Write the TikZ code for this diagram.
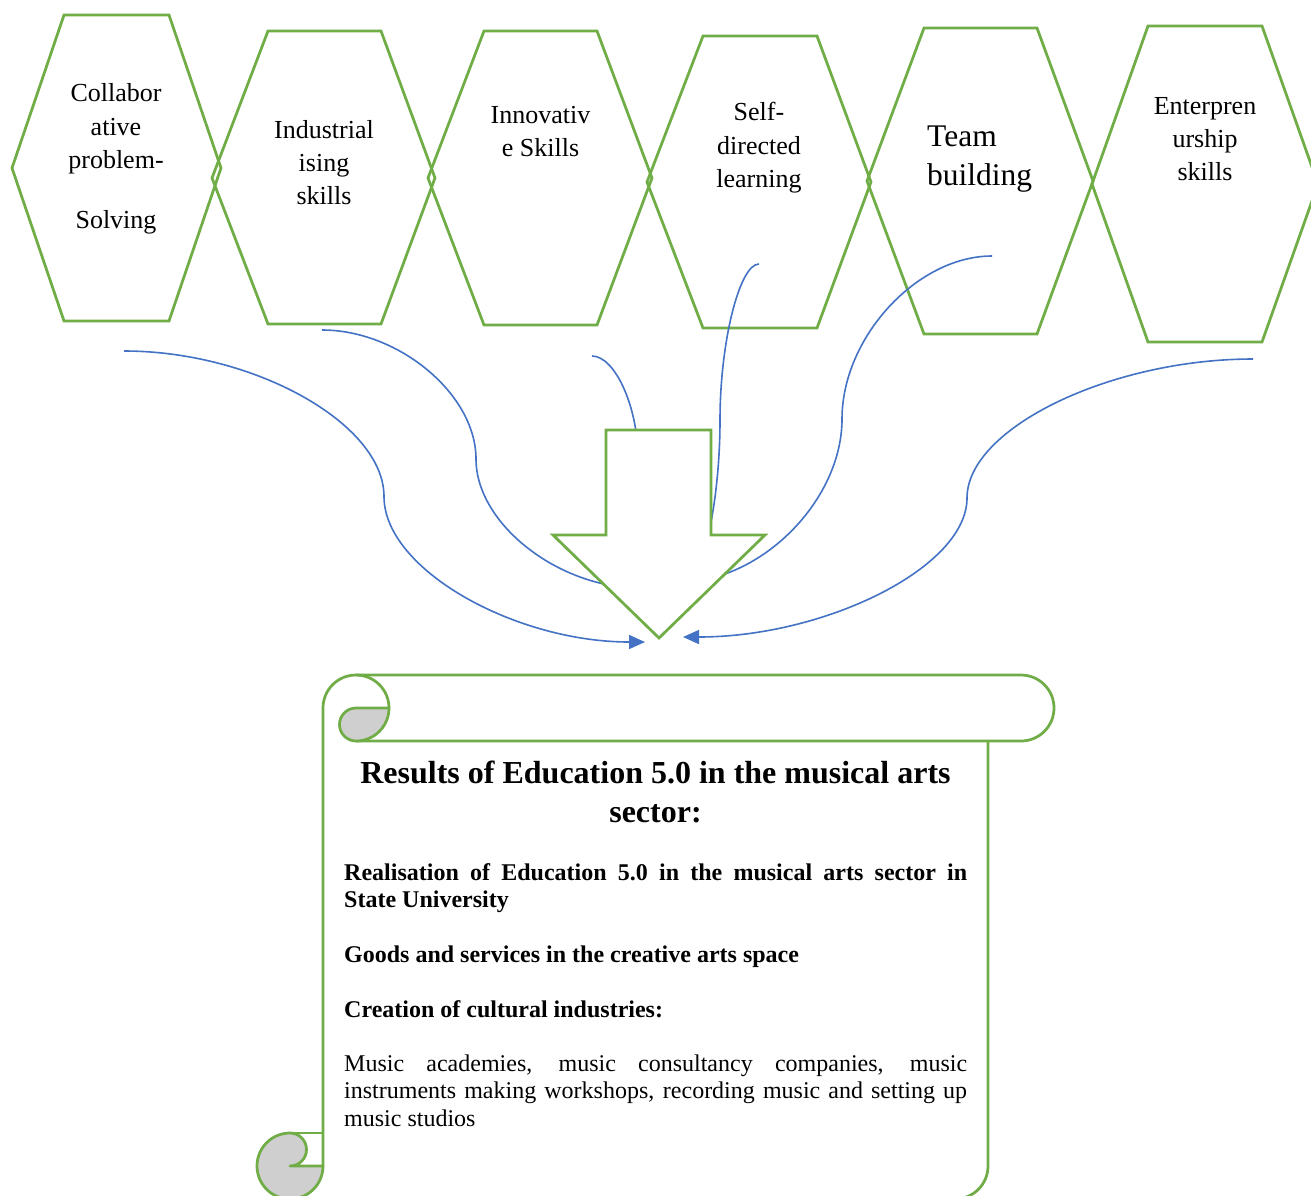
\documentclass[tikz,border=0pt]{standalone}
\usepackage{fontspec}
\setmainfont{Liberation Serif}
\usetikzlibrary{arrows.meta}
\definecolor{sgreen}{HTML}{70AD47}
\definecolor{sblue}{HTML}{4472C4}
\definecolor{sgray}{HTML}{CFCFCF}
\tikzset{
  hexshape/.style={draw=sgreen, line width=2.75pt, line join=miter},
  scrollline/.style={draw=sgreen, line width=2.75pt, line join=round},
  link/.style={draw=sblue, line width=1.6pt},
  linkarrow/.style={link, -{Triangle[length=16pt,width=14pt]}},
  hextext/.style={inner sep=0pt, anchor=base, font=\fontsize{26}{33.3}\selectfont},
}
\newcommand{\hexlines}[1]{\parbox[t]{220pt}{\centering #1}}
\begin{document}
\begin{tikzpicture}[x=1pt,y=-1pt]
\useasboundingbox (0,0) rectangle (1311,1195);
\clip (0,0) rectangle (1311,1195);
\fill[white] (0,0) rectangle (1311,1195);

% hexagons
\draw[hexshape] (12,168) -- (64,15) -- (169,15) -- (221,168) -- (169,321) -- (64,321) -- cycle;
\draw[hexshape] (212,178) -- (268,31) -- (381,31) -- (435,178) -- (381,324) -- (268,324) -- cycle;
\draw[hexshape] (428,178) -- (484,31) -- (597,31) -- (652,178) -- (597,325) -- (484,325) -- cycle;
\draw[hexshape] (647,182) -- (703,36) -- (817,36) -- (871,182) -- (817,328) -- (703,328) -- cycle;
\draw[hexshape] (867,181) -- (924,28) -- (1037,28) -- (1093,181) -- (1037,334) -- (924,334) -- cycle;
\draw[hexshape] (1092,184) -- (1148,26) -- (1262,26) -- (1318,184) -- (1262,342) -- (1148,342) -- cycle;

% hexagon texts
\node[hextext] (t1) at (116,101.7) {\hexlines{Collabor\\ative\\problem-\\[26.7pt]Solving}};
\node[hextext] (t2) at (324,138.3) {\hexlines{Industrial\\ising\\skills}};
\node[hextext] (t3) at (540.5,123.3) {\hexlines{Innovativ\\e Skills}};
\node[hextext] (t4) at (759,120.7) {\hexlines{Self-\\directed\\learning}};
\node[inner sep=0pt, anchor=base west, font=\fontsize{31.5}{38.3}\selectfont] (t5) at (927,146.7) {\parbox[t]{200pt}{\raggedright Team\\building}};
\node[hextext] (t6) at (1205,114) {\hexlines{Enterpren\\urship\\skills}};

% connector end points
\coordinate (c1s) at (124,351);  \coordinate (c1e) at (645,642);
\coordinate (c2s) at (322,330);  \coordinate (c2e) at (640,588);
\coordinate (c3s) at (592,356);  \coordinate (c3e) at (680,560);
\coordinate (c4s) at (759,264);  \coordinate (c4e) at (688,576);
\coordinate (c5s) at (992,256);  \coordinate (c5e) at (680,582);
\coordinate (c6s) at (1253,359); \coordinate (c6e) at (683,637);

% connectors
\draw[linkarrow] (c1s) .. controls (254,351) and (384,423.75) .. (384,496.5) .. controls (384,569.25) and (514.5,642) .. (c1e);
\draw[link] (c2s) .. controls (399,330) and (476,394.5) .. (476,459) .. controls (476,523.5) and (558,588) .. (c2e);
\draw[link] (c3s) .. controls (615,356) and (638,407) .. (638,458) .. controls (638,509) and (659,560) .. (c3e);
\draw[link] (c4s) .. controls (739.5,264) and (720,342) .. (720,420) .. controls (720,498) and (704,576) .. (c4e);
\draw[link] (c5s) .. controls (917,256) and (842,337.5) .. (842,419) .. controls (842,500.5) and (761,582) .. (c5e);
\draw[linkarrow] (c6s) .. controls (1110,359) and (967,428.5) .. (967,498) .. controls (967,567.5) and (825,637) .. (c6e);

% big down arrow
\draw[hexshape, fill=white] (606,430) -- (711,430) -- (711,535) -- (765,535) -- (659,638) -- (553,535) -- (606,535) -- cycle;

% scroll
\draw[scrollline] (323,1166) -- (323,708) arc(180:360:33);
\draw[scrollline] (356,675) -- (1021,675) arc(-90:90:33) -- (356,741);
\draw[scrollline, fill=sgray] (389,708) arc(0:90:33) arc(90:270:16.5) -- cycle;
\draw[scrollline] (988,741) -- (988,1166) arc(0:90:33) -- (290,1199);
\draw[scrollline, fill=sgray] (290,1166) -- (323,1166) arc(0:270:33) arc(-90:90:16.5) -- cycle;
\draw[scrollline] (290,1133) -- (323,1133);

% scroll texts
\node[inner sep=0pt, anchor=base] (title) at (655.5,783) {\parbox[t]{640pt}{\centering\bfseries\fontsize{32}{39}\selectfont Results of Education 5.0 in the musical arts\\sector:}};
\node[inner sep=0pt, anchor=base west] (body) at (344,880.5) {\parbox[t]{623pt}{\fontsize{24}{27.3}\selectfont\setlength{\parskip}{27.3pt}\bfseries Realisation of Education 5.0 in the musical arts sector in\linebreak State University\par Goods and services in the creative arts space\par Creation of cultural industries:\par\mdseries Music academies, music consultancy companies, music\linebreak instruments making workshops, recording music and setting up\linebreak music studios}};
\end{tikzpicture}
\end{document}
